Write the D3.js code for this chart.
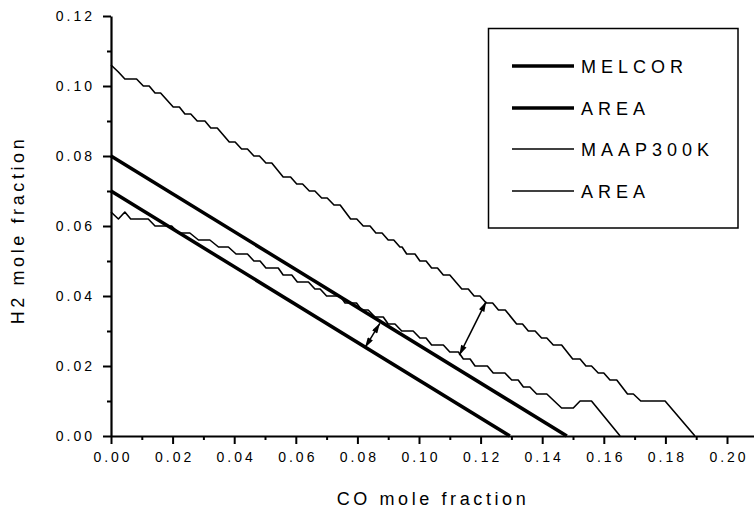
<!DOCTYPE html>
<html>
<head>
<meta charset="utf-8">
<script src="https://cdn.jsdelivr.net/npm/d3@7"></script>
<style>
  body { margin: 0; background: #fff; }
  svg text { font-family: "Liberation Sans", Arial, sans-serif; fill: #000; }
</style>
</head>
<body>
<svg id="chart" width="754" height="513"></svg>
<script>
// Straight limit lines (CO, H2 end points)
const melcorLine = [[0, 0.080], [0.148, 0]];
const areaThickLine = [[0, 0.070], [0.1295, 0]];

// MAAP300K stepped curve
const maapCurve = [
  [0, 0.064], [0.0024, 0.062], [0.0045, 0.064], [0.0064, 0.062], [0.0121, 0.062],
  [0.0143, 0.060], [0.0197, 0.060], [0.0219, 0.058], [0.0256, 0.058], [0.0284, 0.056],
  [0.0321, 0.056], [0.0349, 0.054], [0.0381, 0.054], [0.0406, 0.052], [0.0443, 0.052],
  [0.0464, 0.050], [0.0484, 0.050], [0.0503, 0.048], [0.0543, 0.048], [0.0559, 0.046],
  [0.0587, 0.046], [0.0605, 0.044], [0.0641, 0.044], [0.0662, 0.042], [0.0679, 0.042],
  [0.0700, 0.040], [0.0744, 0.040], [0.0760, 0.038], [0.0797, 0.038], [0.0814, 0.036],
  [0.0835, 0.036], [0.0857, 0.034], [0.0884, 0.034], [0.0900, 0.032], [0.0922, 0.032],
  [0.0944, 0.030], [0.0981, 0.030], [0.1003, 0.028], [0.1023, 0.028], [0.1041, 0.026],
  [0.1079, 0.026], [0.1100, 0.024], [0.1128, 0.024], [0.1144, 0.022], [0.1166, 0.022],
  [0.1182, 0.020], [0.1222, 0.020], [0.1241, 0.018], [0.1279, 0.018], [0.1301, 0.016],
  [0.1322, 0.016], [0.1339, 0.014], [0.1360, 0.014], [0.1382, 0.012], [0.1415, 0.012],
  [0.1463, 0.008], [0.1501, 0.008], [0.1523, 0.010], [0.1560, 0.010], [0.1653, 0]
];

// thin AREA stepped curve (upper one)
const areaThinCurve = [
  [0, 0.106], [0.0024, 0.104], [0.0045, 0.102], [0.0083, 0.102], [0.0105, 0.100],
  [0.0124, 0.100], [0.0143, 0.098], [0.0161, 0.098], [0.0202, 0.094], [0.0222, 0.094],
  [0.0240, 0.092], [0.0259, 0.092], [0.0280, 0.090], [0.0305, 0.090], [0.0324, 0.088],
  [0.0345, 0.088], [0.0384, 0.084], [0.0403, 0.084], [0.0424, 0.082], [0.0443, 0.082],
  [0.0464, 0.080], [0.0482, 0.080], [0.0503, 0.078], [0.0522, 0.078], [0.0559, 0.074],
  [0.0583, 0.074], [0.0603, 0.072], [0.0622, 0.072], [0.0644, 0.070], [0.0662, 0.070],
  [0.0684, 0.068], [0.0702, 0.068], [0.0724, 0.066], [0.0744, 0.066], [0.0778, 0.062],
  [0.0798, 0.062], [0.0819, 0.060], [0.0841, 0.060], [0.0860, 0.058], [0.0880, 0.058],
  [0.0900, 0.056], [0.0918, 0.056], [0.0938, 0.054], [0.0945, 0.054], [0.0960, 0.052],
  [0.0987, 0.052], [0.1003, 0.050], [0.1023, 0.050], [0.1041, 0.048], [0.1060, 0.048],
  [0.1079, 0.046], [0.1100, 0.046], [0.1139, 0.042], [0.1160, 0.042], [0.1179, 0.040],
  [0.1198, 0.040], [0.1218, 0.038], [0.1239, 0.038], [0.1258, 0.036], [0.1280, 0.036],
  [0.1317, 0.032], [0.1336, 0.032], [0.1355, 0.030], [0.1377, 0.030], [0.1398, 0.028],
  [0.1415, 0.028], [0.1436, 0.026], [0.1463, 0.026], [0.1499, 0.022], [0.1523, 0.022],
  [0.1542, 0.020], [0.1560, 0.020], [0.1582, 0.018], [0.1600, 0.018], [0.1620, 0.016],
  [0.1642, 0.016], [0.1677, 0.012], [0.1696, 0.012], [0.1720, 0.010], [0.1799, 0.010],
  [0.1896, 0]
];

// double headed arrows between curves
const arrows = [
  [[0.0825, 0.0253], [0.0873, 0.0322]],
  [[0.1131, 0.0231], [0.1218, 0.0384]]
];

const legendLabels = ["MELCOR", "AREA", "MAAP300K", "AREA"];
const legendWidths = [3.5, 3.5, 1.5, 1.5];

const xTicks = d3.range(0, 0.2001, 0.02);
const xMinor = d3.range(0.01, 0.2001, 0.02);
const yTicks = d3.range(0, 0.1201, 0.02);
const yMinor = d3.range(0.01, 0.12, 0.02);

const svg = d3.select("#chart");

// scales
const x = d3.scaleLinear().domain([0, 0.21]).range([111, 757.8]);
const y = d3.scaleLinear().domain([0, 0.12]).range([436, 16]);

// minor ticks first, then the major axis on top
svg.append("g")
    .attr("transform", "translate(0,436)")
    .call(d3.axisBottom(x).tickValues(xMinor).tickSize(4).tickSizeOuter(0).tickFormat(""))
    .call(g => g.select(".domain").remove())
    .call(g => g.selectAll("line").attr("stroke-width", 2));

svg.append("g")
    .attr("transform", "translate(111,0)")
    .call(d3.axisLeft(y).tickValues(yMinor).tickSize(4).tickSizeOuter(0).tickFormat(""))
    .call(g => g.select(".domain").remove())
    .call(g => g.selectAll("line").attr("stroke-width", 2));

const xAxis = svg.append("g")
    .attr("transform", "translate(0,436)")
    .call(d3.axisBottom(x).tickValues(xTicks).tickSize(8).tickSizeOuter(0).tickPadding(8)
        .tickFormat(d3.format(".2f")));

const yAxis = svg.append("g")
    .attr("transform", "translate(111,0)")
    .call(d3.axisLeft(y).tickValues(yTicks).tickSize(8).tickSizeOuter(0).tickPadding(11)
        .tickFormat(d3.format(".2f")));

[xAxis, yAxis].forEach(g => {
    g.select(".domain").attr("stroke-width", 2.2);
    g.selectAll(".tick line").attr("stroke-width", 2);
    g.selectAll(".tick text")
        .style("font-size", "14px")
        .style("letter-spacing", "3px")
        .style("font-family", "'Liberation Sans', Arial, sans-serif");
});
xAxis.selectAll(".tick text").attr("dx", "1.5px");
yAxis.selectAll(".tick text").attr("dx", "3px");

// axis titles
svg.append("text")
    .attr("x", 433)
    .attr("y", 505)
    .attr("text-anchor", "middle")
    .style("font-size", "18px")
    .style("letter-spacing", "3.6px")
    .text("CO mole fraction");

svg.append("text")
    .attr("transform", "translate(24,230) rotate(-90)")
    .attr("text-anchor", "middle")
    .style("font-size", "18px")
    .style("letter-spacing", "3.6px")
    .text("H2 mole fraction");

// data lines
const line = d3.line().x(d => x(d[0])).y(d => y(d[1]));

svg.append("path").datum(melcorLine)
    .attr("d", line).attr("fill", "none").attr("stroke", "#000").attr("stroke-width", 3.5);
svg.append("path").datum(areaThickLine)
    .attr("d", line).attr("fill", "none").attr("stroke", "#000").attr("stroke-width", 3.5);
svg.append("path").datum(maapCurve)
    .attr("d", line).attr("fill", "none").attr("stroke", "#000").attr("stroke-width", 1.6)
    .attr("stroke-linejoin", "round");
svg.append("path").datum(areaThinCurve)
    .attr("d", line).attr("fill", "none").attr("stroke", "#000").attr("stroke-width", 1.6)
    .attr("stroke-linejoin", "round");

// arrow heads
const defs = svg.append("defs");
defs.append("marker")
    .attr("id", "head")
    .attr("viewBox", "0 0 10 6")
    .attr("refX", 10).attr("refY", 3)
    .attr("markerWidth", 11).attr("markerHeight", 6)
    .attr("markerUnits", "userSpaceOnUse")
    .attr("orient", "auto-start-reverse")
    .append("path")
    .attr("d", "M0,0 L10,3 L0,6 Z")
    .attr("fill", "#000");

svg.selectAll(".arrow")
    .data(arrows)
    .enter()
    .append("line")
    .attr("class", "arrow")
    .attr("x1", d => x(d[0][0]))
    .attr("y1", d => y(d[0][1]))
    .attr("x2", d => x(d[1][0]))
    .attr("y2", d => y(d[1][1]))
    .attr("stroke", "#000")
    .attr("stroke-width", 1.5)
    .attr("marker-start", "url(#head)")
    .attr("marker-end", "url(#head)");

// legend
const legend = svg.append("g");
legend.append("rect")
    .attr("x", 488.5).attr("y", 28.5)
    .attr("width", 249.5).attr("height", 199.5)
    .attr("fill", "#fff")
    .attr("stroke", "#000")
    .attr("stroke-width", 1.5);

const rowY = [66, 108, 149, 191];
legendLabels.forEach((lab, i) => {
    legend.append("line")
        .attr("x1", 512).attr("x2", 574)
        .attr("y1", rowY[i]).attr("y2", rowY[i])
        .attr("stroke", "#000")
        .attr("stroke-width", legendWidths[i]);
    legend.append("text")
        .attr("x", 581)
        .attr("y", rowY[i] + 6.5)
        .style("font-size", "18px")
        .style("letter-spacing", "5px")
        .text(lab);
});
</script>
</body>
</html>
